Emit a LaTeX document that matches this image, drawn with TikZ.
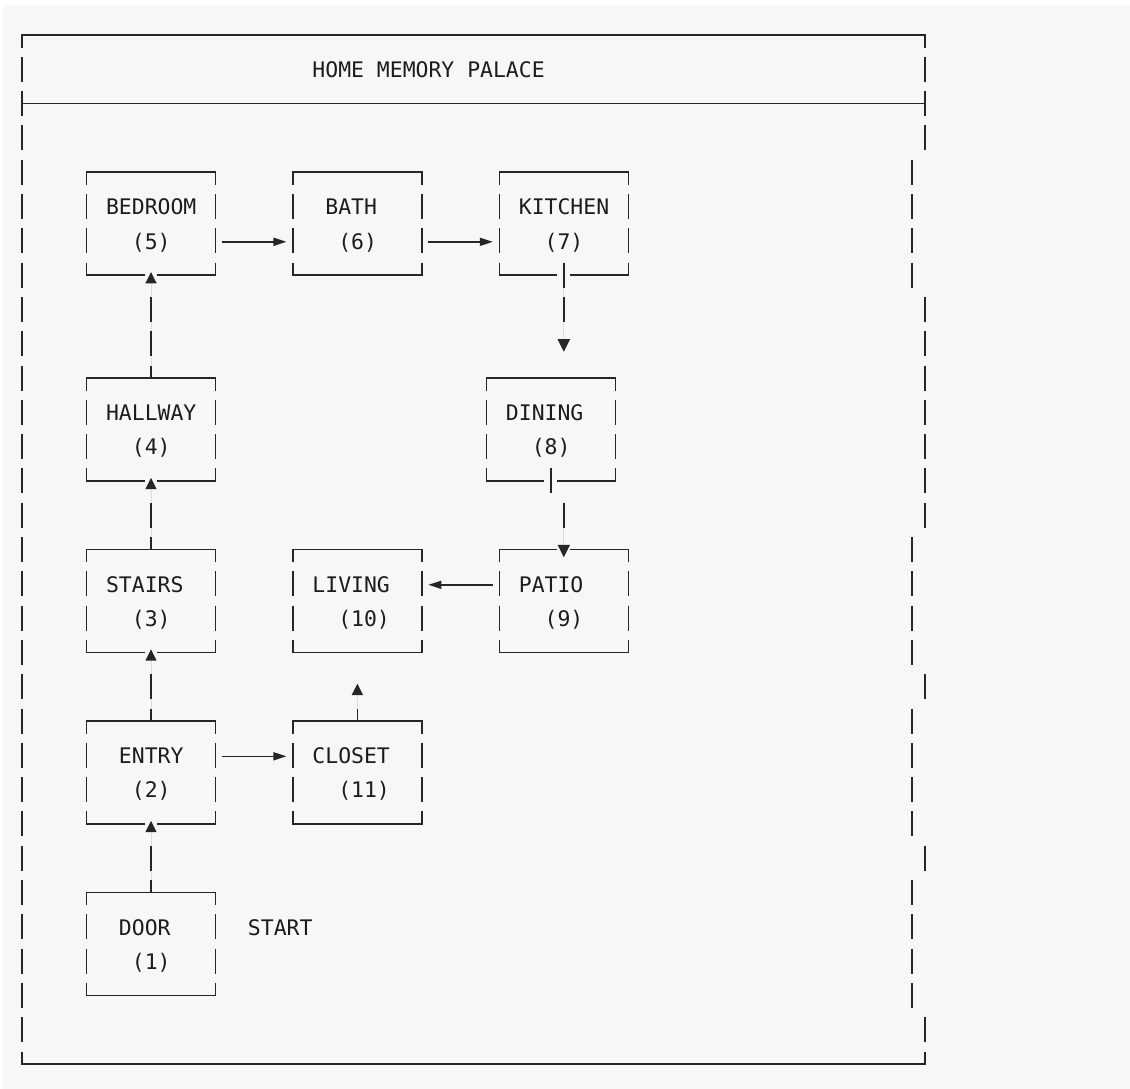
\documentclass[tikz,border=0pt]{standalone}
\usepackage{fontspec}
\newfontfamily\mono{DejaVu Sans Mono}
\usetikzlibrary{calc,arrows.meta}
\definecolor{bgc}{HTML}{F7F7F7}
\definecolor{linec}{HTML}{262626}
\definecolor{textc}{HTML}{1C1C1C}
\newcommand\roombox[3]{%
  \node[room] (#1) at (#2+5,#3+1.5) {};
  \draw[hline] (#1.north west) -- (#1.north east);
  \draw[hline] (#1.south west) -- (#1.south east);
  \draw[vline] (#1.north west) -- (#1.south west);
  \draw[vline] (#1.north east) -- (#1.south east);}
\newcommand\gapat[1]{\fill[bgc] ($(#1)+(-6.45pt,2.2pt)$) rectangle ($(#1)+(6.45pt,-2.2pt)$);}
\newcommand\lbl[4]{\node[txt] (#1) at ($(#2-0.5,#3)+(0pt,-8.3pt)$) {#4};}
\newcommand\rseg[3]{\draw[vseg] ($(#1,#2)+(0pt,12.5pt)$) -- ($(#1,#3)+(0pt,-12.5pt)$);}
\begin{document}
\begin{tikzpicture}[x=12.9pt,y=-34.3pt,
  lc/.style={draw=linec, line width=1.6pt},
  hline/.style={lc, line cap=rect},
  vline/.style={lc, dash pattern=on 25pt off 9.3pt, dash phase=12.5pt},
  vseg/.style={lc, dash pattern=on 25pt off 9.3pt},
  room/.style={rectangle, minimum width=129pt, minimum height=102.9pt, inner sep=0pt, outer sep=0pt},
  txt/.style={font=\mono\fontsize{21.43pt}{34.3pt}\selectfont, text=textc, inner sep=0pt, anchor=base west},
  uptip/.style={-{Triangle[length=11.3pt,width=11pt]}, fill=linec},
  downtip/.style={-{Triangle[length=12.5pt,width=12pt]}, fill=linec},
  sidetip/.style={-{Triangle[length=13pt,width=8pt]}},
]
% canvas and background
\useasboundingbox (-22pt,35pt) rectangle (1108pt,-1053pt);
\fill[white] (-22pt,35pt) rectangle (1108pt,-1053pt);
\begin{scope}
  \clip (-22pt,35pt) rectangle (1108pt,-1053pt);
  \fill[bgc, rounded corners=6pt] (-19pt,30pt) rectangle (1125pt,-1070pt);
\end{scope}

% outer frame
\draw[hline] (0,0) -- (70,0);
\draw[hline] (0,2) -- (70,2);
\draw[hline] (0,30) -- (70,30);
\draw[vline] (0,0) -- (0,30);
\draw[vline] (70,0) -- ($(70,3)+(0pt,-12.5pt)$);
\rseg{69}{4}{7}
\rseg{70}{8}{14}
\rseg{69}{15}{18}
\rseg{70}{19}{19}
\rseg{69}{20}{23}
\rseg{70}{24}{24}
\rseg{69}{25}{28}
\draw[vseg] ($(70,29)+(0pt,12.5pt)$) -- (70,30);
\lbl{title}{23}{1}{HOME MEMORY PALACE}

% rooms
\roombox{bedroom}{5}{4}
\roombox{bath}{21}{4}
\roombox{kitchen}{37}{4}
\roombox{hallway}{5}{10}
\roombox{dining}{36}{10}
\roombox{stairs}{5}{15}
\roombox{living}{21}{15}
\roombox{patio}{37}{15}
\roombox{entry}{5}{20}
\roombox{closet}{21}{20}
\roombox{door}{5}{25}

% labels
\lbl{tBedroom}{7}{5}{BEDROOM}   \lbl{nBedroom}{9}{6}{(5)}
\lbl{tBath}{24}{5}{BATH}        \lbl{nBath}{25}{6}{(6)}
\lbl{tKitchen}{39}{5}{KITCHEN}  \lbl{nKitchen}{41}{6}{(7)}
\lbl{tHallway}{7}{11}{HALLWAY}  \lbl{nHallway}{9}{12}{(4)}
\lbl{tDining}{38}{11}{DINING}   \lbl{nDining}{40}{12}{(8)}
\lbl{tStairs}{7}{16}{STAIRS}    \lbl{nStairs}{9}{17}{(3)}
\lbl{tLiving}{23}{16}{LIVING}   \lbl{nLiving}{25}{17}{(10)}
\lbl{tPatio}{39}{16}{PATIO}     \lbl{nPatio}{41}{17}{(9)}
\lbl{tEntry}{8}{21}{ENTRY}      \lbl{nEntry}{9}{22}{(2)}
\lbl{tCloset}{23}{21}{CLOSET}   \lbl{nCloset}{25}{22}{(11)}
\lbl{tDoor}{8}{26}{DOOR}        \lbl{nDoor}{9}{27}{(1)}
\lbl{start}{18}{26}{START}

% gaps where arrows / lines cross box edges
\gapat{bedroom.south}
\gapat{hallway.south}
\gapat{stairs.south}
\gapat{entry.south}
\gapat{kitchen.south}
\gapat{dining.south}
\gapat{patio.north}

% vertical connectors (upwards)
\draw[lc, uptip, dash pattern=on 12.5pt off 9.3pt on 25pt off 60pt] (door.north) -- ($(entry.south)+(0pt,3pt)$);
\draw[lc, uptip, dash pattern=on 12.5pt off 9.3pt on 25pt off 60pt] (entry.north) -- ($(stairs.south)+(0pt,3pt)$);
\draw[lc, uptip, dash pattern=on 12.5pt off 9.3pt on 25pt off 60pt] (stairs.north) -- ($(hallway.south)+(0pt,3pt)$);
\draw[lc, uptip, dash pattern=on 12.5pt off 9.3pt on 25pt off 9.3pt on 25pt off 60pt] (hallway.north) -- ($(bedroom.south)+(0pt,3pt)$);
\draw[lc, uptip, dash pattern=on 12.5pt off 60pt] (closet.north) -- ($(living.south)+(0,1)+(0pt,3pt)$);

% vertical connectors (downwards)
\draw[lc, downtip, dash pattern=on 25pt off 9.3pt on 25pt off 60pt] ($(kitchen.south)+(0pt,12.5pt)$) -- ($(dining.north -| kitchen.south)+(0pt,26.3pt)$);
\draw[lc] ($(dining.south)+(0pt,12.5pt)$) -- ($(dining.south)+(0pt,-12.5pt)$);
\draw[lc, downtip, dash pattern=on 25pt off 60pt] ($(dining.south -| patio.north)+(0pt,-21.8pt)$) -- ($(patio.north)+(0pt,-7.8pt)$);

% horizontal connectors
\draw[lc, sidetip] ($(bedroom.north east)+(0.5,2)+(0pt,-1pt)$) -- ($(bath.north west)+(-0.5,2)+(0pt,-1pt)$);
\draw[lc, sidetip] ($(bath.north east)+(0.5,2)+(0pt,-1pt)$) -- ($(kitchen.north west)+(-0.5,2)+(0pt,-1pt)$);
\draw[lc, sidetip] ($(entry.north east)+(0.5,1)+(0pt,-1pt)$) -- ($(closet.north west)+(-0.5,1)+(0pt,-1pt)$);
\draw[lc, sidetip] ($(patio.north west)+(-0.5,1)+(0pt,-1pt)$) -- ($(living.north east)+(0.5,1)+(0pt,-1pt)$);
\end{tikzpicture}
\end{document}
